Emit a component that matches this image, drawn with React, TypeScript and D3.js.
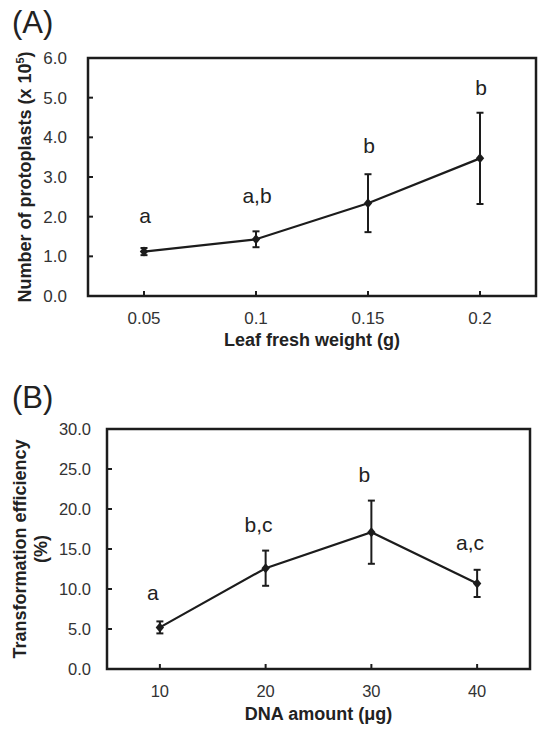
import React from "react";
import * as d3 from "d3";

// panel A: protoplast yield vs leaf fresh weight
const weights = ["0.05", "0.1", "0.15", "0.2"];
const protoplasts = [1.12, 1.43, 2.34, 3.47];
const protoplastsErr = [0.09, 0.2, 0.73, 1.15];
const protoplastsLetters = ["a", "a,b", "b", "b"];
const protoplastsLetterAt = [1.84, 2.34, 3.6, 5.07];
const protoplastTicks = [0, 1, 2, 3, 4, 5, 6];

// panel B: transformation efficiency vs DNA amount
const dnaAmounts = ["10", "20", "30", "40"];
const efficiency = [5.2, 12.6, 17.1, 10.7];
const efficiencyErr = [0.75, 2.2, 3.95, 1.7];
const efficiencyLetters = ["a", "b,c", "b", "a,c"];
const efficiencyLetterAt = [8.6, 17.1, 23.4, 14.9];
const efficiencyTicks = [0, 5, 10, 15, 20, 25, 30];

const FONT = "'Liberation Sans', Arial, sans-serif";
const INK = "#1c1c1c";

type PanelProps = {
  tag: string;
  tagY: number;
  box: { left: number; right: number; top: number; bottom: number };
  cats: string[];
  values: number[];
  errs: number[];
  letters: string[];
  letterAt: number[];
  letterDx: number;
  ticks: number[];
  tickSize: number;
  tickGap: number;
  xTitle: string;
  xTitleDy: number;
  yTitle: string[];
  yTitleX: number[];
};

const Panel = (p: PanelProps) => {
  const { box } = p;
  const x = d3
    .scalePoint<string>()
    .domain(p.cats)
    .range([box.left, box.right])
    .padding(0.5);
  const y = d3
    .scaleLinear()
    .domain([0, d3.max(p.ticks) as number])
    .range([box.bottom, box.top]);
  const line = d3
    .line<number>()
    .x((d, i) => x(p.cats[i]) as number)
    .y((d) => y(d));
  const yMid = (box.top + box.bottom) / 2;
  const xMid = (box.left + box.right) / 2;

  return (
    <g fontFamily={FONT}>
      <text x={12} y={p.tagY} fontSize={31} fill="#222">
        {p.tag}
      </text>

      {/* y ticks, pointing inward */}
      {p.ticks.map((t) => (
        <g key={"yt" + t}>
          <line
            x1={box.left}
            x2={box.left + 5}
            y1={y(t)}
            y2={y(t)}
            stroke={INK}
            strokeWidth={2}
          />
          <text
            x={box.left - p.tickGap}
            y={y(t)}
            dy="0.35em"
            textAnchor="end"
            fontSize={p.tickSize}
            fill="#333"
          >
            {t.toFixed(1)}
          </text>
        </g>
      ))}

      {/* x ticks */}
      {p.cats.map((c) => (
        <g key={"xt" + c}>
          <line
            x1={x(c)}
            x2={x(c)}
            y1={box.bottom}
            y2={box.bottom - 5}
            stroke={INK}
            strokeWidth={2}
          />
          <text
            x={x(c)}
            y={box.bottom + 28}
            textAnchor="middle"
            fontSize={p.tickSize}
            fill="#333"
          >
            {c}
          </text>
        </g>
      ))}

      <rect
        x={box.left}
        y={box.top}
        width={box.right - box.left}
        height={box.bottom - box.top}
        fill="none"
        stroke={INK}
        strokeWidth={2.5}
      />

      {/* error bars */}
      {p.values.map((v, i) => {
        const cx = x(p.cats[i]) as number;
        const hi = y(v + p.errs[i]);
        const lo = y(v - p.errs[i]);
        return (
          <g key={"eb" + i} stroke={INK} strokeWidth={2}>
            <line x1={cx} x2={cx} y1={hi} y2={lo} />
            <line x1={cx - 3.5} x2={cx + 3.5} y1={hi} y2={hi} />
            <line x1={cx - 3.5} x2={cx + 3.5} y1={lo} y2={lo} />
          </g>
        );
      })}

      <path d={line(p.values) || ""} fill="none" stroke={INK} strokeWidth={2.2} />

      {p.values.map((v, i) => (
        <path
          key={"pt" + i}
          transform={`translate(${x(p.cats[i])},${y(v)})`}
          d="M0,-5L4.2,0L0,5L-4.2,0Z"
          fill={INK}
        />
      ))}

      {p.letters.map((l, i) => (
        <text
          key={"lt" + i}
          x={(x(p.cats[i]) as number) + p.letterDx}
          y={y(p.letterAt[i])}
          textAnchor="middle"
          fontSize={21}
          fill="#222"
        >
          {l}
        </text>
      ))}

      <text
        x={xMid}
        y={box.bottom + p.xTitleDy}
        textAnchor="middle"
        fontSize={18}
        fontWeight="bold"
        fill="#222"
      >
        {p.xTitle}
      </text>

      {p.yTitle.map((t, i) => (
        <text
          key={"ytl" + i}
          transform={`translate(${p.yTitleX[i]},${yMid}) rotate(-90)`}
          textAnchor="middle"
          fontSize={18}
          fontWeight="bold"
          fill="#222"
        >
          {t === "Number of protoplasts (x 10" ? (
            <>
              {t}
              <tspan fontSize={11} dy={-7}>
                5
              </tspan>
              <tspan dy={7}>)</tspan>
            </>
          ) : (
            t
          )}
        </text>
      ))}
    </g>
  );
};

const App = () => {
  return (
    <svg
      width={538}
      height={730}
      style={{ position: "absolute", left: 0, top: 0, background: "#fff" }}
    >
      <rect width={538} height={730} fill="#fff" />
      <Panel
        tag="(A)"
        tagY={33}
        box={{ left: 88, right: 536, top: 58, bottom: 296 }}
        cats={weights}
        values={protoplasts}
        errs={protoplastsErr}
        letters={protoplastsLetters}
        letterAt={protoplastsLetterAt}
        letterDx={1}
        ticks={protoplastTicks}
        tickSize={17}
        tickGap={21}
        xTitle="Leaf fresh weight (g)"
        xTitleDy={50}
        yTitle={["Number of protoplasts (x 10"]}
        yTitleX={[31]}
      />
      <Panel
        tag="(B)"
        tagY={408}
        box={{ left: 107, right: 530, top: 429, bottom: 669 }}
        cats={dnaAmounts}
        values={efficiency}
        errs={efficiencyErr}
        letters={efficiencyLetters}
        letterAt={efficiencyLetterAt}
        letterDx={-7}
        ticks={efficiencyTicks}
        tickSize={16.5}
        tickGap={16}
        xTitle="DNA amount (μg)"
        xTitleDy={51}
        yTitle={["Transformation efficiency", "(%)"]}
        yTitleX={[26, 47]}
      />
    </svg>
  );
};

export default App;
